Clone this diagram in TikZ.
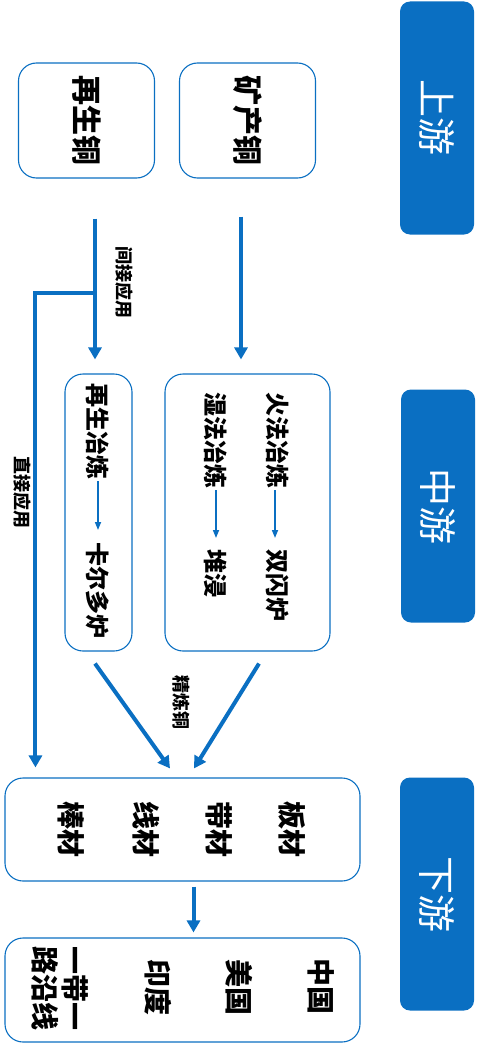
\documentclass[tikz,border=0pt]{standalone}
\usepackage{fontspec}
\newfontfamily\cjk{Noto Sans CJK SC}
\usetikzlibrary{arrows.meta}
\definecolor{cblue}{HTML}{0A6FC2}

\begin{document}
\begin{tikzpicture}[
  x=1pt, y=-1pt,
  stage/.style={fill=cblue, rounded corners=10pt, rotate=-90, minimum width=233pt, minimum height=74pt, text=white, font=\cjk\fontsize{38}{40}\selectfont},
  frame/.style={draw=cblue, line width=1.1pt, rounded corners=18pt},
  srcbox/.style={frame, rotate=-90, minimum width=115pt, minimum height=136pt, font=\cjk\bfseries\fontsize{30}{30}\selectfont},
  item/.style={rotate=-90, inner sep=0pt, font=\cjk\bfseries\fontsize{#1}{#1}\selectfont},
  item/.default=28,
  tag/.style={rotate=-90, inner sep=0pt, font=\cjk\bfseries\fontsize{18}{18}\selectfont},
  flow/.style={draw=cblue, line width=4pt, -{Triangle[width=13pt,length=12pt]}},
  thinflow/.style={draw=cblue, line width=1.6pt, -{Triangle[width=6pt,length=8pt]}}
]
\useasboundingbox (0,0) rectangle (477,1049);
% stages
\node[stage] (upstage) at (437,118) {上游};
\node[stage] (midstage) at (438,506) {中游};
\node[stage] (downstage) at (437,894) {下游};
% raw copper
\node[srcbox] (recyc) at (86.5,120.5) {再生铜};
\node[srcbox] (mine) at (247.5,120.5) {矿产铜};
% smelting
\node[frame, minimum width=67pt, minimum height=277pt] (rbox) at (98.5,512.5) {};
\node[frame, minimum width=165pt, minimum height=277pt] (pbox) at (247.5,512.5) {};
\node[item=24, anchor=west] (rsmelt) at (98,383) {再生冶炼};
\node[item=24, anchor=west] (kaldo) at (98,542) {卡尔多炉};
\node[item=24, anchor=west] (fire) at (278,392) {火法冶炼};
\node[item=24, anchor=west] (flash) at (278,549) {双闪炉};
\node[item=24, anchor=west] (wet) at (216,392) {湿法冶炼};
\node[item=24, anchor=west] (heap) at (216,549) {堆浸};
\draw[thinflow] ([yshift=-2pt]rsmelt.east) -- ([yshift=12pt]kaldo.west);
\draw[thinflow] ([xshift=-3pt,yshift=-2pt]fire.east) -- ([xshift=-3pt,yshift=11pt]flash.west);
\draw[thinflow] ([yshift=-2pt]wet.east) -- ([yshift=11pt]heap.west);
% products
\node[frame, minimum width=355pt, minimum height=103pt] (prods) at (182.5,829.5) {};
\node[item] (bar) at (71,829) {棒材};
\node[item] (wire) at (146,829) {线材};
\node[item] (strip) at (219,829) {带材};
\node[item] (plate) at (292,829) {板材};
% markets
\node[frame, minimum width=355pt, minimum height=104pt] (mkts) at (182.5,990) {};
\node[item] (cn) at (321,986) {中国};
\node[item] (us) at (239,987) {美国};
\node[item] (ind) at (158,987) {印度};
\node[item, align=center] (belt) at (60,988) {一带一\\[2pt]路沿线};
% flows
\coordinate (split) at (95,293);
\draw[flow] ([xshift=8.5pt,yshift=-40pt]recyc.east) -- ([xshift=-3.5pt,yshift=14pt]rbox.north);
\draw[flow] ([xshift=-6.5pt,yshift=-38pt]mine.east) -- ([xshift=-6.5pt,yshift=14pt]pbox.north);
\draw[flow] (split) -| ([xshift=31pt,yshift=10pt]prods.north west);
\draw[flow] ([xshift=-3.5pt,yshift=-12pt]rbox.south) -- ([xshift=-12.5pt,yshift=9pt]prods.north);
\draw[flow] ([xshift=11.5pt,yshift=-12pt]pbox.south) -- ([xshift=11.5pt,yshift=9pt]prods.north);
\draw[flow] ([xshift=11pt,yshift=-5pt]prods.south) -- ([xshift=11pt,yshift=5pt]mkts.north);
% labels
\node[tag] (indirect) at (124,282) {间接应用};
\node[tag] (direct) at (22,492) {直接应用};
\node[tag] (refined) at (181,702) {精炼铜};
\end{tikzpicture}
\end{document}
